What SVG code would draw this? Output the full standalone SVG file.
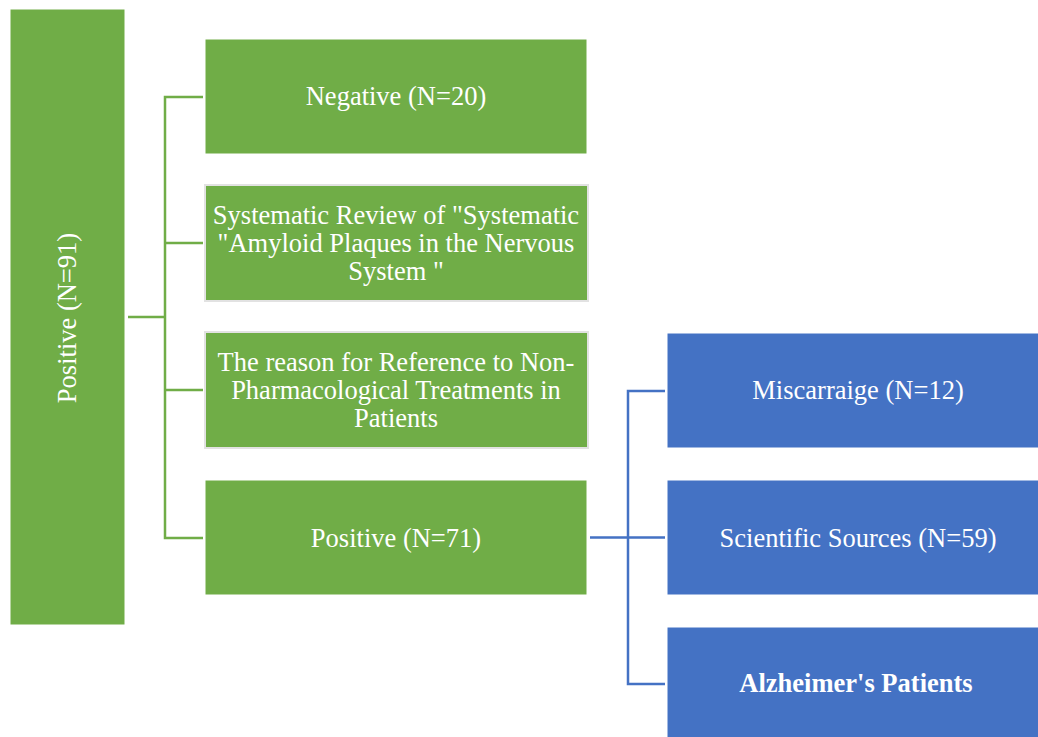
<svg xmlns="http://www.w3.org/2000/svg" width="1038" height="737" viewBox="0 0 1038 737">
<style>
.g{fill:#70AD47;stroke:#ffffff;stroke-width:1}
.gb{fill:#70AD47;stroke:#E2E2E2;stroke-width:2}
.b{fill:#4472C4;stroke:#ffffff;stroke-width:1}
.t{font-family:"Liberation Serif","Times New Roman",serif;font-size:26.5px;fill:#ffffff;text-anchor:middle}
.bold{font-weight:bold}
.cg{fill:none;stroke:#70AD47;stroke-width:2.5}
.cb{fill:none;stroke:#4472C4;stroke-width:2.5}
</style>
<rect width="1038" height="737" fill="#ffffff"/>
<g id="connectors">
<path class="cg" d="M128,317H165M203,97H165V538H203M165,243H203M165,390H203"/>
<path class="cb" d="M590,537.5H665M665,391H628V684H665"/>
</g>
<g id="n-root">
<rect class="g" x="10" y="9" width="115" height="616"/>
<text class="t" transform="translate(76,318) rotate(-90)">Positive (N=91)</text>
</g>
<g id="n-negative">
<rect class="g" x="205" y="39" width="382" height="115"/>
<text class="t" x="396" y="105">Negative (N=20)</text>
</g>
<g id="n-systematic">
<rect class="gb" x="205" y="185" width="383" height="116"/>
<text class="t" x="396" y="224">Systematic Review of "Systematic</text>
<text class="t" x="396" y="252">"Amyloid Plaques in the Nervous</text>
<text class="t" x="396" y="280">System "</text>
</g>
<g id="n-reason">
<rect class="gb" x="205" y="332" width="383" height="116"/>
<text class="t" x="396" y="371">The reason for Reference to Non-</text>
<text class="t" x="396" y="399">Pharmacological Treatments in</text>
<text class="t" x="396" y="427">Patients</text>
</g>
<g id="n-positive71">
<rect class="g" x="205" y="480" width="382" height="115"/>
<text class="t" x="396" y="547">Positive (N=71)</text>
</g>
<g id="n-miscarraige">
<rect class="b" x="667" y="333" width="382" height="115"/>
<text class="t" x="858" y="399">Miscarraige (N=12)</text>
</g>
<g id="n-scientific">
<rect class="b" x="667" y="480" width="382" height="115"/>
<text class="t" x="858" y="547">Scientific Sources (N=59)</text>
</g>
<g id="n-alzheimer">
<rect class="b" x="667" y="627" width="382" height="115"/>
<text class="t bold" x="856" y="692">Alzheimer's Patients</text>
</g>
</svg>
